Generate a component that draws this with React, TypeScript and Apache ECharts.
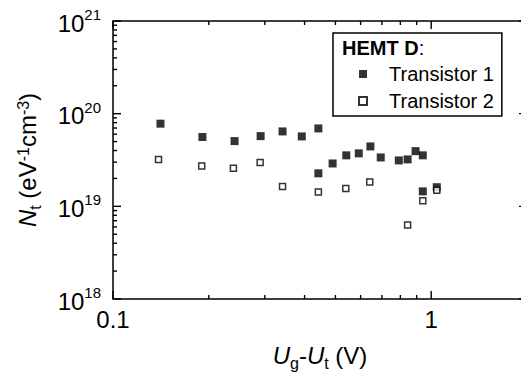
import React, { useEffect, useRef } from 'react';
import * as echarts from 'echarts';

// Transistor 1 (filled squares)
const t1X = [0.141, 0.191, 0.241, 0.291, 0.341, 0.392, 0.442, 0.442, 0.49, 0.541, 0.592, 0.644, 0.694, 0.791, 0.843, 0.893, 0.941, 0.941, 1.041];
const t1Y = [7.8e19, 5.6e19, 5.06e19, 5.72e19, 6.43e19, 5.68e19, 6.93e19, 2.27e19, 2.9e19, 3.55e19, 3.73e19, 4.43e19, 3.37e19, 3.13e19, 3.21e19, 3.94e19, 3.55e19, 1.45e19, 1.61e19];
// Transistor 2 (open squares)
const t2X = [0.139, 0.19, 0.239, 0.29, 0.341, 0.442, 0.539, 0.641, 0.843, 0.941, 1.041];
const t2Y = [3.21e19, 2.72e19, 2.57e19, 2.98e19, 1.64e19, 1.43e19, 1.56e19, 1.83e19, 6.3e18, 1.15e19, 1.49e19];

const seriesNames = ['Transistor 1', 'Transistor 2'];
const legendTitle = 'HEMT D';
const xTickLabels = [0.1, 1];
const xRange = [0.1, 2];
const yRange = [1e18, 1e21];

const FONT = "'Liberation Sans', Arial, Helvetica, sans-serif";

export default function App() {
  const ref = useRef<HTMLDivElement>(null);
  useEffect(() => {
    const chart = echarts.init(ref.current!, null, { renderer: 'svg' });
    const base = { fontFamily: FONT, color: '#000' };
    const option: any = {
      animation: false,
      backgroundColor: '#fff',
      textStyle: { fontFamily: FONT, color: '#000' },
      grid: {
        left: 113, top: 21, width: 414, height: 278,
        show: true, borderColor: '#000', borderWidth: 1.5, backgroundColor: 'transparent',
      },
      xAxis: {
        type: 'log', logBase: 10, min: xRange[0], max: xRange[1],
        axisLine: { show: false }, axisTick: { show: false }, splitLine: { show: false },
        axisLabel: {
          fontSize: 24, color: '#000', fontFamily: FONT, margin: 8,
          formatter: (v: number) => {
            const f = xTickLabels.find((t) => Math.abs(t - v) / t < 1e-6);
            return f === undefined ? '' : String(f);
          },
        },
        name: '{i|U}{sub|g}{n|-}{i|U}{sub|t}{n| (V)}',
        nameLocation: 'middle',
        nameGap: 44,
        nameTextStyle: {
          ...base,
          rich: {
            i: { ...base, fontSize: 24, fontStyle: 'italic', lineHeight: 28, verticalAlign: 'top' },
            n: { ...base, fontSize: 24, lineHeight: 28, verticalAlign: 'top' },
            sub: { ...base, fontSize: 16, lineHeight: 16, verticalAlign: 'bottom' },
          },
        },
      },
      yAxis: {
        type: 'log', logBase: 10, min: yRange[0], max: yRange[1],
        axisLine: { show: false }, axisTick: { show: false }, splitLine: { show: false },
        axisLabel: {
          margin: 12,
          formatter: (v: number) => `{b|10}{s|${Math.round(Math.log10(v))}}`,
          rich: {
            b: { ...base, fontSize: 24, lineHeight: 28, verticalAlign: 'bottom' },
            s: { ...base, fontSize: 15, lineHeight: 15, verticalAlign: 'top' },
          },
        },
        name: '{i|N}{sub|t}{n| (eV}{sup|-1}{n|cm}{sup|-3}{n|)}',
        nameLocation: 'middle',
        nameRotate: 90,
        nameGap: 70,
        nameTextStyle: {
          ...base,
          rich: {
            i: { ...base, fontSize: 24, fontStyle: 'italic', lineHeight: 28, verticalAlign: 'top' },
            n: { ...base, fontSize: 24, lineHeight: 28, verticalAlign: 'top' },
            sub: { ...base, fontSize: 16, lineHeight: 16, verticalAlign: 'bottom' },
            sup: { ...base, fontSize: 16, lineHeight: 16, verticalAlign: 'top' },
          },
        },
      },
      legend: {
        orient: 'vertical',
        left: 333, top: 33,
        padding: [31, 8, 5, 25],
        borderColor: '#000', borderWidth: 1.5,
        backgroundColor: '#fff',
        itemWidth: 8, itemHeight: 8, itemGap: 7,
        textStyle: { fontSize: 20, fontFamily: FONT, color: '#000', padding: [0, 0, 0, 17] },
        data: seriesNames,
      },
      series: [
        {
          name: seriesNames[0], type: 'scatter', symbol: 'rect', symbolSize: 8,
          itemStyle: { color: '#000' },
          data: t1X.map((x, i) => [x, t1Y[i]]),
        },
        {
          name: seriesNames[1], type: 'scatter', symbol: 'rect', symbolSize: 6,
          itemStyle: { color: '#fff', borderColor: '#000', borderWidth: 1.5 },
          data: t2X.map((x, i) => [x, t2Y[i]]),
        },
      ],
    };
    chart.setOption(option);

    // ticks on all four sides (inside), with log minor ticks
    const xp = (v: number) => chart.convertToPixel({ xAxisIndex: 0 }, v) as number;
    const yp = (v: number) => chart.convertToPixel({ yAxisIndex: 0 }, v) as number;
    const left = xp(xRange[0]);
    const right = xp(xRange[1]);
    const top = yp(yRange[1]);
    const bottom = yp(yRange[0]);
    const els: any[] = [];
    const ls = { stroke: '#000', lineWidth: 1.4 };
    for (const d of [0.1, 1]) {
      for (let k = 1; k <= 9; k++) {
        const v = d * k;
        if (v < xRange[0] - 1e-9 || v > xRange[1] + 1e-9) continue;
        const px = xp(v);
        const len = k === 1 ? 8 : 4;
        els.push({ type: 'line', z: 100, shape: { x1: px, y1: bottom, x2: px, y2: bottom - len }, style: ls, silent: true });
        els.push({ type: 'line', z: 100, shape: { x1: px, y1: top, x2: px, y2: top + len }, style: ls, silent: true });
      }
    }
    for (const d of [1e18, 1e19, 1e20, 1e21]) {
      for (let k = 1; k <= 9; k++) {
        const v = d * k;
        if (v > yRange[1] * 1.0000001) continue;
        const py = yp(v);
        const len = k === 1 ? 8 : 4;
        els.push({ type: 'line', z: 100, shape: { x1: left, y1: py, x2: left + len, y2: py }, style: ls, silent: true });
        els.push({ type: 'line', z: 100, shape: { x1: right, y1: py, x2: right - len, y2: py }, style: ls, silent: true });
      }
    }
    els.push({
      type: 'text', left: 342, top: 38, z: 100, silent: true,
      style: {
        text: `{b|${legendTitle}}{n|:}`,
        fill: '#000',
        font: `bold 20px ${FONT}`,
        rich: {
          b: { fontFamily: FONT, fontSize: 20, fontWeight: 'bold', fill: '#000' },
          n: { fontFamily: FONT, fontSize: 20, fontWeight: 'normal', fill: '#000' },
        },
      },
    });
    chart.setOption({ graphic: { elements: els } });

    return () => chart.dispose();
  }, []);

  return (
    <div style={{ position: 'fixed', left: 0, top: 0, width: 521, height: 382, overflow: 'hidden', background: '#fff' }}>
      <div ref={ref} style={{ width: 540, height: 382 }} />
    </div>
  );
}
